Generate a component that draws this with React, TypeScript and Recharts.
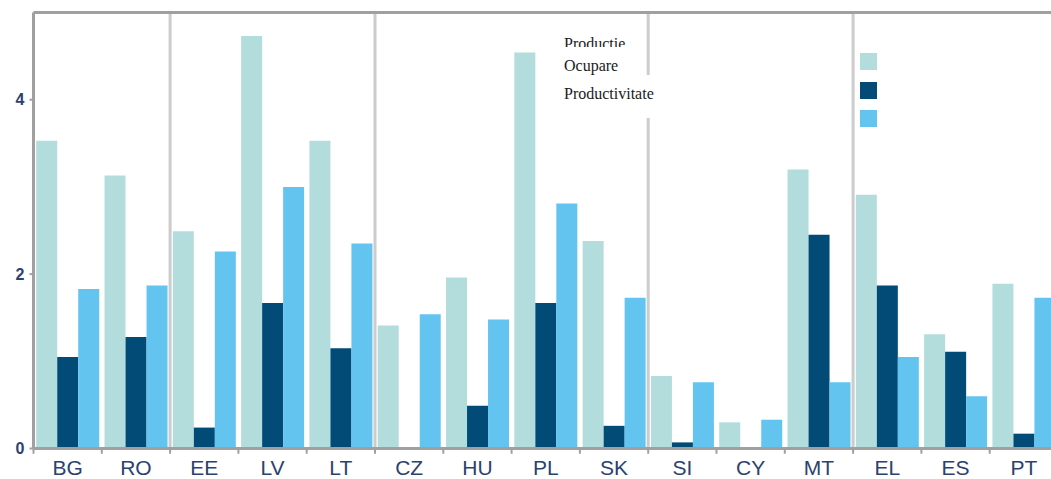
import React from 'react';
import { BarChart, Bar, XAxis, YAxis, ReferenceLine, Legend } from 'recharts';

// categories and series (percentage change)
const categories = ['BG', 'RO', 'EE', 'LV', 'LT', 'CZ', 'HU', 'PL', 'SK', 'SI', 'CY', 'MT', 'EL', 'ES', 'PT'];
const productie = [3.53, 3.13, 2.49, 4.73, 3.53, 1.41, 1.96, 4.54, 2.38, 0.83, 0.3, 3.2, 2.91, 1.31, 1.89];
const ocupare = [1.05, 1.28, 0.24, 1.67, 1.15, 0, 0.49, 1.67, 0.26, 0.07, 0, 2.45, 1.87, 1.11, 0.17];
const productivitate = [1.83, 1.87, 2.26, 3.0, 2.35, 1.54, 1.48, 2.81, 1.73, 0.76, 0.33, 0.76, 1.05, 0.6, 1.73];
const seriesNames = ['Productie', 'Ocupare', 'Productivitate'];

const yTicks = [0, 2, 4];
const yMax = 5;
// a new group starts at these countries
const groupStarts = ['EE', 'CZ', 'SI', 'EL'];

const data = categories.map((name, i) => ({
  name,
  Productie: productie[i],
  Ocupare: ocupare[i],
  Productivitate: productivitate[i],
}));

const axisGrey = '#a0a0a0';
const tickText = '#2b426e';

const textTops = [35, 57, 85];
const swatchTops = [53, 82, 110];

const renderLegend = (props: any) => {
  const payload = [...(props.payload || [])].sort(
    (a: any, b: any) => seriesNames.indexOf(a.value) - seriesNames.indexOf(b.value)
  );
  const textStyle = (i: number): React.CSSProperties => ({
    position: 'absolute',
    left: 564,
    top: textTops[i],
    fontFamily: '"Liberation Serif", "Times New Roman", serif',
    fontSize: 16,
    color: '#1a1a1a',
    whiteSpace: 'nowrap',
    zIndex: i === 0 ? 0 : 2,
  });
  return (
    <div style={{ position: 'relative', width: 1051, height: 479 }}>
      {payload.map((entry: any, i: number) => (
        <div key={`t-${i}`} style={textStyle(i)}>
          {entry.value}
        </div>
      ))}
      {/* white boxes behind the labels, as in the source */}
      <div style={{ position: 'absolute', left: 556, top: 47, width: 84, height: 10, background: '#fff', zIndex: 1 }} />
      <div style={{ position: 'absolute', left: 556, top: 75, width: 99, height: 43, background: '#fff', zIndex: 1 }} />
      {payload.map((entry: any, i: number) => (
        <div
          key={`s-${i}`}
          style={{
            position: 'absolute',
            left: 860,
            top: swatchTops[i],
            width: 17,
            height: 17,
            background: entry.color,
          }}
        />
      ))}
    </div>
  );
};

const App: React.FC = () => {
  return (
    <div style={{ position: 'absolute', left: 0, top: 0, width: 1051, height: 479, overflow: 'hidden', background: '#fff' }}>
      <BarChart
        width={1058}
        height={479}
        data={data}
        margin={{ top: 12.5, right: 0, left: 0, bottom: 0 }}
        barCategoryGap="4%"
        barGap={0}
      >
        <XAxis
          dataKey="name"
          height={30.5}
          axisLine={{ stroke: axisGrey, strokeWidth: 3 }}
          tickLine={false}
          tickSize={0}
          tickMargin={12}
          interval={0}
          tick={{ fill: tickText, fontSize: 21, fontFamily: 'Arial, "Liberation Sans", sans-serif' }}
        />
        <YAxis
          width={33.5}
          domain={[0, yMax]}
          ticks={yTicks}
          axisLine={{ stroke: axisGrey, strokeWidth: 3 }}
          tickLine={{ stroke: axisGrey, strokeWidth: 2 }}
          tickSize={4}
          tickMargin={5}
          tick={{ fill: tickText, fontSize: 16, fontWeight: 'bold', fontFamily: 'Arial, "Liberation Sans", sans-serif' }}
        />
        {groupStarts.map((c) => (
          <ReferenceLine key={`g-${c}`} x={c} position="start" stroke="#cccccc" strokeWidth={3} />
        ))}
        {categories.map((c) => (
          <ReferenceLine
            key={`t-${c}`}
            position="start"
            segment={[{ x: c, y: 0 }, { x: c, y: -0.06 }]}
            ifOverflow="visible"
            stroke={axisGrey}
            strokeWidth={2}
          />
        ))}
        <ReferenceLine y={yMax} stroke={axisGrey} strokeWidth={3} />
        <Legend
          layout="vertical"
          align="center"
          verticalAlign="middle"
          content={renderLegend}
          wrapperStyle={{ left: 0, top: 0, width: 1051, height: 479, pointerEvents: 'none' }}
        />
        <Bar dataKey="Productie" fill="#b3dcdc" isAnimationActive={false} />
        <Bar dataKey="Ocupare" fill="#024b76" isAnimationActive={false} />
        <Bar dataKey="Productivitate" fill="#64c4f0" isAnimationActive={false} />
      </BarChart>
    </div>
  );
};

export default App;
